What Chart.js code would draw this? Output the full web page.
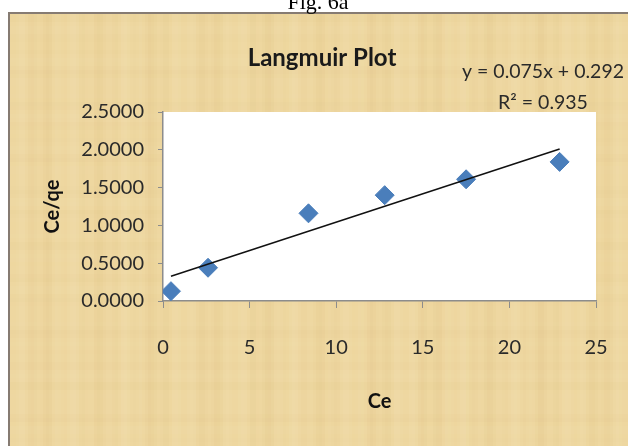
<!DOCTYPE html>
<html>
<head>
<meta charset="utf-8">
<script src="https://cdn.jsdelivr.net/npm/chart.js@4.4.1/dist/chart.umd.min.js"></script>
<style>
  body { margin: 0; background: #fff; }
  #wrap { width: 628px; height: 446px; }
</style>
</head>
<body>
<div id="wrap"><canvas id="myChart" width="628" height="446"></canvas></div>
<script>
// values
const ce = [0.46, 2.6, 8.4, 12.8, 17.5, 22.9];
const ceQe = [0.13, 0.44, 1.16, 1.40, 1.61, 1.84];
const slope = 0.075;
const intercept = 0.292;
const xTicks = [0, 5, 10, 15, 20, 25];
const yTicks = [0, 0.5, 1, 1.5, 2, 2.5];

const trendX = [ce[0], ce[ce.length - 1]];
const trend = trendX.map((x) => ({ x: x, y: slope * x + intercept }));

const FONT = "Lato, 'Open Sans', sans-serif";

// parchment background, caption, title and equation
const paper = {
  id: "paper",
  beforeDraw(chart) {
    const c = chart.ctx;
    const w = chart.width, h = chart.height;
    c.save();
    c.fillStyle = "#fff";
    c.fillRect(0, 0, w, h);
    c.fillStyle = "#eed7a0";
    c.fillRect(9, 13, w - 9, h - 13);
    // soft streaks
    for (let x = 10; x < w; x += 3) {
      const a = 0.05 * (Math.sin(x * 0.37) + Math.sin(x * 0.113));
      c.fillStyle = a > 0 ? "rgba(255,248,225," + a + ")" : "rgba(200,160,90," + (-a) + ")";
      c.fillRect(x, 14, 3, h - 14);
    }
    for (let y = 14; y < h; y += 4) {
      const a = 0.04 * Math.sin(y * 0.29) * Math.sin(y * 0.071);
      c.fillStyle = a > 0 ? "rgba(255,248,225," + a + ")" : "rgba(200,160,90," + (-a) + ")";
      c.fillRect(10, y, w - 10, 4);
    }
    c.fillStyle = "#867b72";
    c.fillRect(9, 12, w - 9, 2);
    c.fillRect(8, 12, 2, h - 12);
    // plot area
    const a = chart.chartArea;
    c.fillStyle = "#fff";
    c.fillRect(a.left, a.top, a.right - a.left, a.bottom - a.top);
    c.restore();
  },
  afterDraw(chart) {
    const c = chart.ctx;
    c.save();
    c.fillStyle = "#000";
    c.textAlign = "center";
    c.textBaseline = "alphabetic";
    c.font = "22px 'Liberation Serif', 'DejaVu Serif', serif";
    c.fillText("Fig. 6a", 318, 9);
    c.fillStyle = "#1a1a1a";
    c.font = "bold 24px " + FONT;
    c.fillText("Langmuir Plot", 322, 66);
    c.fillStyle = "#2a2a2a";
    c.font = "19.5px " + FONT;
    c.fillText("y = 0.075x + 0.292", 543, 78);
    c.fillText("R\u00b2 = 0.935", 543, 109);
    c.restore();
  },
};

const ctx = document.getElementById("myChart");

new Chart(ctx, {
  type: "scatter",
  data: {
    datasets: [
      {
        label: "Ce/qe",
        data: ce.map((x, i) => ({ x: x, y: ceQe[i] })),
        pointStyle: "rectRot",
        pointRadius: 9.5,
        pointHoverRadius: 9.5,
        backgroundColor: "#4a7ebb",
        borderColor: "#4a7ebb",
        borderWidth: 1,
        order: 2,
      },
      {
        type: "line",
        label: "Linear",
        data: trend,
        borderColor: "#111",
        borderWidth: 1.5,
        pointRadius: 0,
        fill: false,
        order: 1,
      },
    ],
  },
  plugins: [paper],
  options: {
    responsive: false,
    animation: false,
    layout: { padding: { left: 0, top: 112, right: 32, bottom: 0 } },
    plugins: {
      legend: { display: false },
      tooltip: { enabled: false },
    },
    scales: {
      x: {
        type: "linear",
        min: 0,
        max: 25,
        afterBuildTicks: (s) => { s.ticks = xTicks.map((v) => ({ value: v })); },
        afterFit: (s) => { s.height = 145; s.paddingLeft = 0; s.paddingRight = 0; },
        border: { display: true, color: "#8c8c8c", width: 1.5 },
        grid: { drawOnChartArea: false, drawTicks: true, tickLength: 7, color: "#8c8c8c" },
        ticks: { color: "#2a2a2a", font: { family: FONT, size: 20 }, padding: 28 },
        title: {
          display: true,
          text: "Ce",
          color: "#111",
          font: { family: FONT, size: 20, weight: "bold" },
          padding: { top: 0, bottom: 32 },
        },
      },
      y: {
        type: "linear",
        min: 0,
        max: 2.5,
        afterBuildTicks: (s) => { s.ticks = yTicks.map((v) => ({ value: v })); },
        afterFit: (s) => { s.width = 163; s.paddingTop = 0; s.paddingBottom = 0; },
        border: { display: true, color: "#8c8c8c", width: 1.5 },
        grid: { drawOnChartArea: false, drawTicks: true, tickLength: 5, color: "#8c8c8c" },
        ticks: {
          color: "#2a2a2a",
          font: { family: FONT, size: 20 },
          padding: 14,
          callback: (v) => Number(v).toFixed(4),
        },
        title: {
          display: true,
          text: "Ce/qe",
          color: "#111",
          font: { family: FONT, size: 20, weight: "bold" },
          padding: { top: 41, bottom: 0 },
        },
      },
    },
  },
});
</script>
</body>
</html>
